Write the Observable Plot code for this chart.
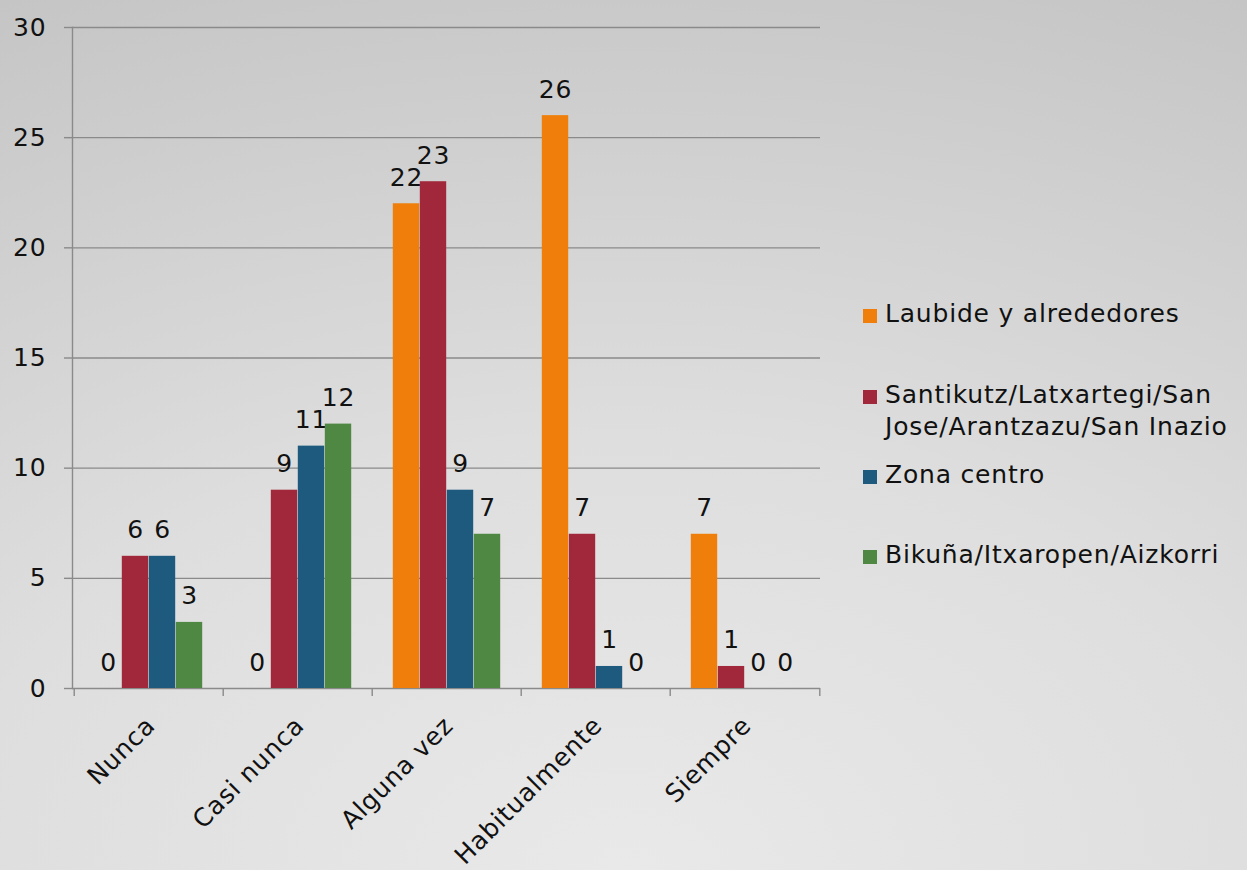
<!DOCTYPE html>
<html>
<head>
<meta charset="utf-8">
<script src="https://cdn.jsdelivr.net/npm/d3@7"></script>
<script src="https://cdn.jsdelivr.net/npm/@observablehq/plot@0.6"></script>
<style>
  html, body { margin: 0; padding: 0; }
  body {
    width: 1247px; height: 870px; overflow: hidden; position: relative;
    background: radial-gradient(ellipse 120% 110% at 50% 100%, #e9e9e9 0%, #dedede 45%, #c5c5c5 100%);
    font-family: "DejaVu Sans", Verdana, sans-serif;
    color: #111;
  }
  #chart { position: absolute; left: 0; top: 0; }
  #legend { position: absolute; left: 863px; top: 0; }
  .item { position: absolute; left: 0; display: flex; align-items: flex-start; font-size: 25px; line-height: 32px; white-space: pre; letter-spacing: 0.8px; }
  .swatch { width: 14px; height: 14px; margin-top: 11px; margin-right: 8px; flex: none; }
</style>
</head>
<body>
<div id="chart"></div>
<div id="legend"></div>
<script>
// ---- data ----
const categories = ["Nunca", "Casi nunca", "Alguna vez", "Habitualmente", "Siempre"];
const seriesNames = [
  "Laubide y alrededores",
  "Santikutz/Latxartegi/San\nJose/Arantzazu/San Inazio",
  "Zona centro",
  "Bikuña/Itxaropen/Aizkorri"
];
const laubide    = [0, 0, 22, 26, 7];
const santikutz  = [6, 9, 23, 7, 1];
const zonaCentro = [6, 11, 9, 1, 0];
const bikuna     = [3, 12, 7, 0, 0];
const yTicks = [0, 5, 10, 15, 20, 25, 30];
const colors = ["#ef7f0a", "#a0283a", "#1d5a7e", "#4f8842"];

// ---- build table ----
const seriesValues = [laubide, santikutz, zonaCentro, bikuna];
const data = [];
seriesNames.forEach((s, j) => categories.forEach((c, i) => data.push({category: c, series: j, value: seriesValues[j][i]})));

// ---- layout ----
const W = 1247, H = 870, mL = 72, mR = 427, mT = 27, mB = 182;
const bw = (W - mL - mR) / categories.length;
const barW = 27;
const groupPad = (bw - barW * seriesNames.length) / 2;
const grid = "#8a8a8a";

const marks = [
  Plot.ruleY(yTicks, {y: d => d, stroke: grid, strokeWidth: 1.4}),
  Plot.frame({anchor: "left", stroke: grid, strokeWidth: 1.4}),
  Plot.axisY({ticks: yTicks, tickSize: 8, tickPadding: 18, fontSize: 25, stroke: grid, strokeWidth: 1.4, fill: "#111", label: null}),
  Plot.axisX({tickSize: 0, tickRotate: -45, tickPadding: 33, dx: 2, fontSize: 25, fill: "#111", label: null}),
  Plot.ruleX(categories, {x: d => d, dx: -bw / 2, insetTop: H - mT - mB, insetBottom: -8, stroke: grid, strokeWidth: 1.4}),
  Plot.ruleX([categories[categories.length - 1]], {x: d => d, dx: bw / 2, insetTop: H - mT - mB, insetBottom: -8, stroke: grid, strokeWidth: 1.4})
];
seriesNames.forEach((s, j) => {
  const rows = data.filter(d => d.series === j);
  marks.push(Plot.barY(rows, {
    x: "category", y: "value", fill: colors[j],
    insetLeft: groupPad + j * barW,
    insetRight: bw - groupPad - (j + 1) * barW
  }));
  marks.push(Plot.text(rows, {
    x: "category", y: "value", text: d => String(d.value),
    dx: -bw / 2 + groupPad + (j + 0.5) * barW, dy: -26,
    fontSize: 25, fill: "#111", lineAnchor: "middle"
  }));
});

const chart = Plot.plot({
  width: W, height: H,
  marginLeft: mL, marginRight: mR, marginTop: mT, marginBottom: mB,
  style: {background: "transparent", fontFamily: "DejaVu Sans", overflow: "visible", color: "#111", letterSpacing: "0.8px"},
  x: {domain: categories, padding: 0, axis: null},
  y: {domain: [0, 30], axis: null},
  marks
});
document.getElementById("chart").appendChild(chart);

// ---- legend ----
const legendTops = [298, 379, 459, 539];
const legend = document.getElementById("legend");
seriesNames.forEach((s, j) => {
  const item = document.createElement("div");
  item.className = "item";
  item.style.top = legendTops[j] + "px";
  const sw = document.createElement("span");
  sw.className = "swatch";
  sw.style.background = colors[j];
  const tx = document.createElement("span");
  tx.textContent = s;
  item.appendChild(sw); item.appendChild(tx);
  legend.appendChild(item);
});
</script>
</body>
</html>
